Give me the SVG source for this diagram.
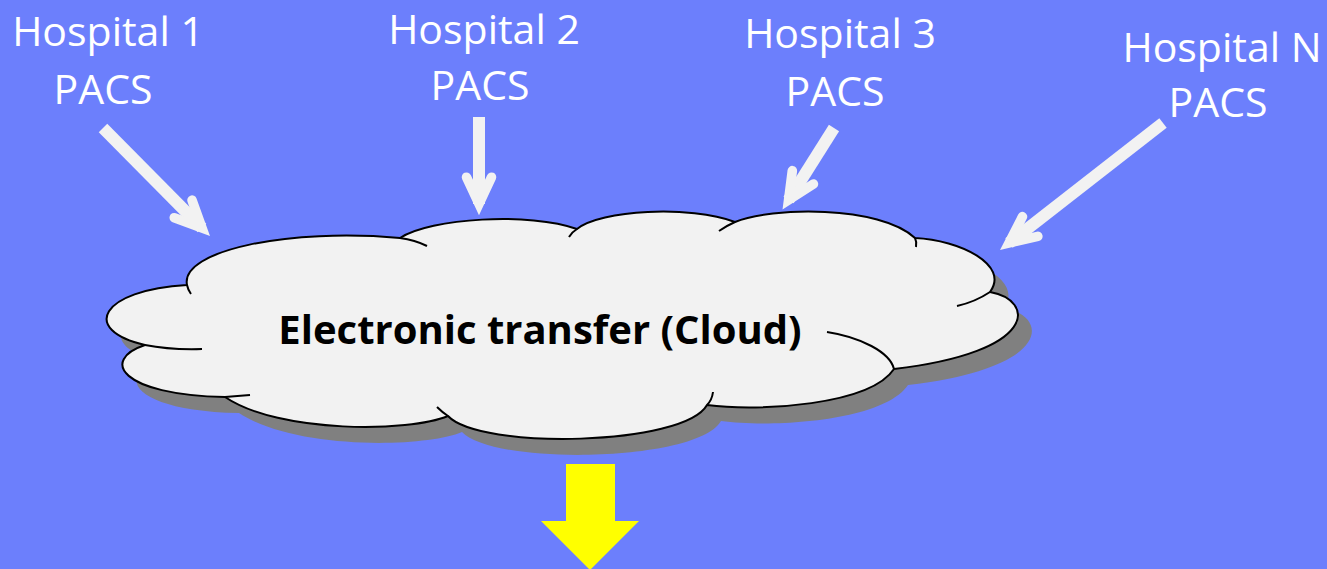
<svg xmlns="http://www.w3.org/2000/svg" width="1327" height="569" viewBox="0 0 1327 569">
<style>
.lbl{font-family:"Open Sans","Noto Sans","DejaVu Sans",sans-serif;font-size:41px;fill:#ffffff;text-anchor:middle}
.ttl{font-family:"Open Sans","Noto Sans","DejaVu Sans",sans-serif;font-size:40px;font-weight:bold;fill:#000000;text-anchor:middle}
.cloud{fill:#f2f2f2;stroke:#000;stroke-width:2;stroke-linejoin:round}
.shadow{fill:#808080}
.hook{fill:none;stroke:#000;stroke-width:2;stroke-linecap:butt}
.shaft{stroke:#f2f2f2;stroke-width:12;stroke-linecap:butt;fill:none}
</style>
<defs>
<marker id="head" markerUnits="userSpaceOnUse" orient="auto" refX="0" refY="0" markerWidth="80" markerHeight="80" viewBox="-60 -40 100 80" overflow="visible">
<path d="M-33.5,-15.6 L0,0 L-33.5,15.6" fill="none" stroke="#f2f2f2" stroke-width="12" stroke-linejoin="miter" stroke-miterlimit="4" stroke-linecap="round"/>
</marker>
<path id="cloudOutline" d="M187,285 C180,250 290,228 400,238 C430,218 530,212 577,229 C600,210 690,205 735,222 C770,207 880,205 915,238 C960,240 1010,265 990,292 C1035,300 1040,352 894,369 C870,405 760,412 707,405 C684,446 480,450 448,416 C410,432 280,434 225,397 C120,395 100,360 145,345 C80,330 100,290 187,285 Z"/>
</defs>
<rect x="0" y="0" width="1327" height="569" fill="#6c7ffc"/>

<g id="cloud">
<use href="#cloudOutline" class="shadow" transform="translate(14,16)"/>
<use href="#cloudOutline" class="cloud"/>
<path class="hook" d="M187,285 Q188,290 191,294"/>
<path class="hook" d="M400,238 Q415,240 427,246"/>
<path class="hook" d="M577,229 Q572,232 569,237"/>
<path class="hook" d="M735,222 Q726,226 719,231"/>
<path class="hook" d="M915,238 Q917,242 916,247"/>
<path class="hook" d="M990,292 Q975,302 957,306"/>
<path class="hook" d="M894,369 C890,352 860,337 827,332"/>
<path class="hook" d="M707,405 Q712,400 713,392"/>
<path class="hook" d="M448,416 Q442,412 437,407"/>
<path class="hook" d="M225,397 Q238,396 250,395"/>
<path class="hook" d="M145,345 Q170,350 202,349"/>
<text class="ttl" x="540" y="344">Electronic transfer (Cloud)</text>
</g>

<g id="hospital1"><text class="lbl" x="108" y="46">Hospital 1</text><text class="lbl" x="103" y="104">PACS</text></g>
<g id="hospital2"><text class="lbl" x="484" y="44">Hospital 2</text><text class="lbl" x="480" y="100">PACS</text></g>
<g id="hospital3"><text class="lbl" x="840" y="48">Hospital 3</text><text class="lbl" x="835" y="106">PACS</text></g>
<g id="hospitalN"><text class="lbl" x="1222" y="62">Hospital N</text><text class="lbl" x="1218" y="117">PACS</text></g>

<g id="connectors">
<line class="shaft" x1="103" y1="128" x2="202" y2="228" marker-end="url(#head)"/>
<line class="shaft" x1="479" y1="117" x2="479" y2="204" marker-end="url(#head)"/>
<line class="shaft" x1="834" y1="128" x2="788.6" y2="200" marker-end="url(#head)"/>
<line class="shaft" x1="1163" y1="123" x2="1009" y2="243" marker-end="url(#head)"/>
<polygon id="output-arrow" points="566,464 615,464 615,521 639,521 590,570 541,521 566,521" fill="#ffff00"/>
</g>
</svg>
